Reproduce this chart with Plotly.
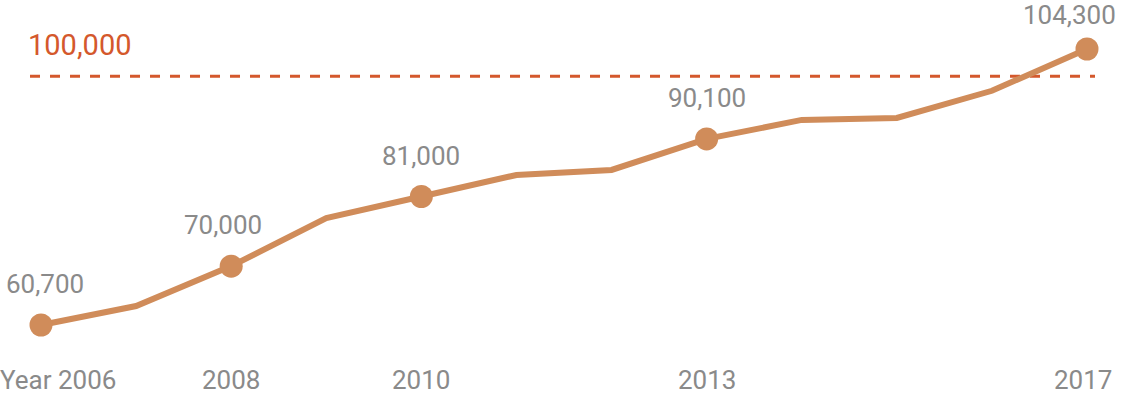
import plotly.graph_objects as go

years = [2006, 2007, 2008, 2009, 2010, 2011, 2012, 2013, 2014, 2015, 2016, 2017]
values = [60700, 63700, 70000, 77600, 81000, 84400, 85200, 90100, 93100, 93400, 97700, 104300]
marked_years = [2006, 2008, 2010, 2013, 2017]
marked_labels = ["60,700", "70,000", "81,000", "90,100", "104,300"]
tick_years = [2006, 2008, 2010, 2013, 2017]
tick_labels = ["Year 2006", "2008", "2010", "2013", "2017"]
target_value = 100000
target_label = "100,000"

LINE = "#d08c5a"
GREY = "#8a8a8a"
RED = "#d4582c"
FONT = "Roboto"

marked_values = [values[years.index(y)] for y in marked_years]

fig = go.Figure()
fig.add_trace(go.Scatter(x=years, y=values, mode="lines",
                         line=dict(color=LINE, width=6), hoverinfo="skip"))
fig.add_trace(go.Scatter(x=marked_years, y=marked_values, mode="markers",
                         marker=dict(color=LINE, size=23), hoverinfo="skip"))

fig.add_shape(type="line", xref="paper", yref="y", x0=30/1122, x1=1095/1122,
              y0=target_value, y1=target_value, layer="below",
              line=dict(color=RED, width=3, dash="10px,10px"))

annotations = []
n = len(marked_years)
for i, (x, y, t) in enumerate(zip(marked_years, marked_values, marked_labels)):
    if i == n - 1:
        annotations.append(dict(x=x, y=y, text=t, showarrow=False, xanchor="right",
                                yshift=34, xshift=31,
                                font=dict(family=FONT, size=26, color=GREY)))
    else:
        annotations.append(dict(x=x, y=y, text=t, showarrow=False, yshift=41,
                                xshift=-8 if x == 2008 else (4 if i == 0 else 0),
                                font=dict(family=FONT, size=26, color=GREY)))
for i, (x, t) in enumerate(zip(tick_years, tick_labels)):
    annotations.append(dict(x=x, y=1 - 380/401, yref="paper", text=t, showarrow=False,
                            xshift=17 if i == 0 else (-4 if i == n - 1 else 0),
                            yanchor="middle",
                            font=dict(family=FONT, size=26, color=GREY)))
annotations.append(dict(x=26/1122, xref="paper", xanchor="left", y=target_value,
                        yshift=31, text=target_label, showarrow=False,
                        font=dict(family=FONT, size=29, color=RED)))

px_per_year = (1087 - 41) / 11
px_per_unit = (325 - 49) / (104300 - 60700)
fig.update_layout(
    width=1122, height=401,
    margin=dict(l=0, r=0, t=0, b=0),
    plot_bgcolor="white", paper_bgcolor="white",
    showlegend=False,
    xaxis=dict(range=[2006 - 41/px_per_year, 2017 + 35/px_per_year], visible=False),
    yaxis=dict(range=[60700 - 76/px_per_unit, 104300 + 49/px_per_unit], visible=False),
    annotations=annotations,
)
fig.write_html("out.html", config={"displayModeBar": False},
               post_script="document.body.style.margin='0';")
